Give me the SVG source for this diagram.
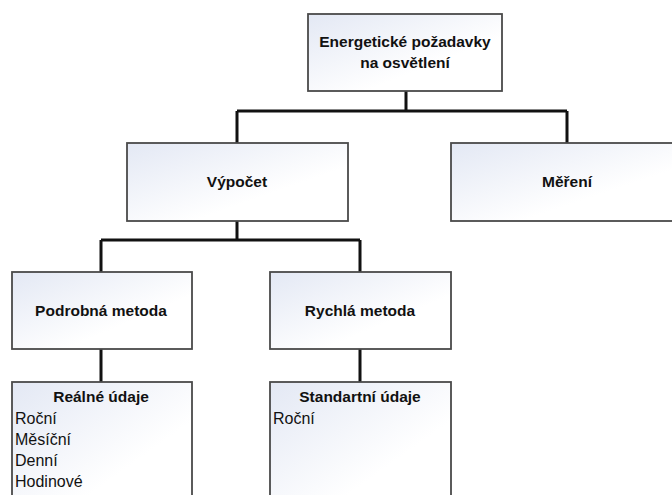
<svg xmlns="http://www.w3.org/2000/svg" width="672" height="495" viewBox="0 0 672 495">
<defs>
<linearGradient id="g" x1="0" y1="0" x2="1" y2="1">
<stop offset="0" stop-color="#e3e8f4"/>
<stop offset="0.65" stop-color="#ffffff"/>
</linearGradient>
<style>
.box{fill:url(#g);stroke:#4a4a4a;stroke-width:1.8}
.c{fill:none;stroke:#111;stroke-width:3}
.b{font-family:"Liberation Sans",Arial,sans-serif;font-weight:bold;font-size:15.5px;fill:#111;text-anchor:middle}
.n{font-family:"Liberation Sans",Arial,sans-serif;font-size:16px;fill:#111}
</style>
</defs>
<rect width="672" height="495" fill="#fff"/>
<g id="connectors">
<path class="c" d="M406 91V111M237 111H567M237 111V143M567 111V143"/>
<path class="c" d="M237 221V240M101 240H360M101 240V272M360 240V272"/>
<path class="c" d="M101 349V382M360 349V382"/>
</g>
<g id="n-energie">
<rect class="box" x="308" y="14" width="194" height="77"/>
<text class="b" x="405" y="47">Energetické požadavky</text>
<text class="b" x="405" y="68">na osvětlení</text>
</g>
<g id="n-vypocet">
<rect class="box" x="127" y="143" width="221" height="78"/>
<text class="b" x="237" y="187">Výpočet</text>
</g>
<g id="n-mereni">
<rect class="box" x="451" y="143" width="232" height="78"/>
<text class="b" x="567" y="187">Měření</text>
</g>
<g id="n-podrobna">
<rect class="box" x="12" y="272" width="180" height="77"/>
<text class="b" x="101" y="316">Podrobná metoda</text>
</g>
<g id="n-rychla">
<rect class="box" x="270" y="272" width="181" height="77"/>
<text class="b" x="360" y="316">Rychlá metoda</text>
</g>
<g id="n-realne">
<rect class="box" x="12" y="382" width="180" height="130"/>
<text class="b" x="101" y="402">Reálné údaje</text>
<text class="n" x="15" y="424">Roční</text>
<text class="n" x="15" y="445">Měsíční</text>
<text class="n" x="15" y="466">Denní</text>
<text class="n" x="15" y="487">Hodinové</text>
</g>
<g id="n-standartni">
<rect class="box" x="270" y="382" width="181" height="130"/>
<text class="b" x="360" y="402">Standartní údaje</text>
<text class="n" x="273" y="424">Roční</text>
</g>
</svg>
